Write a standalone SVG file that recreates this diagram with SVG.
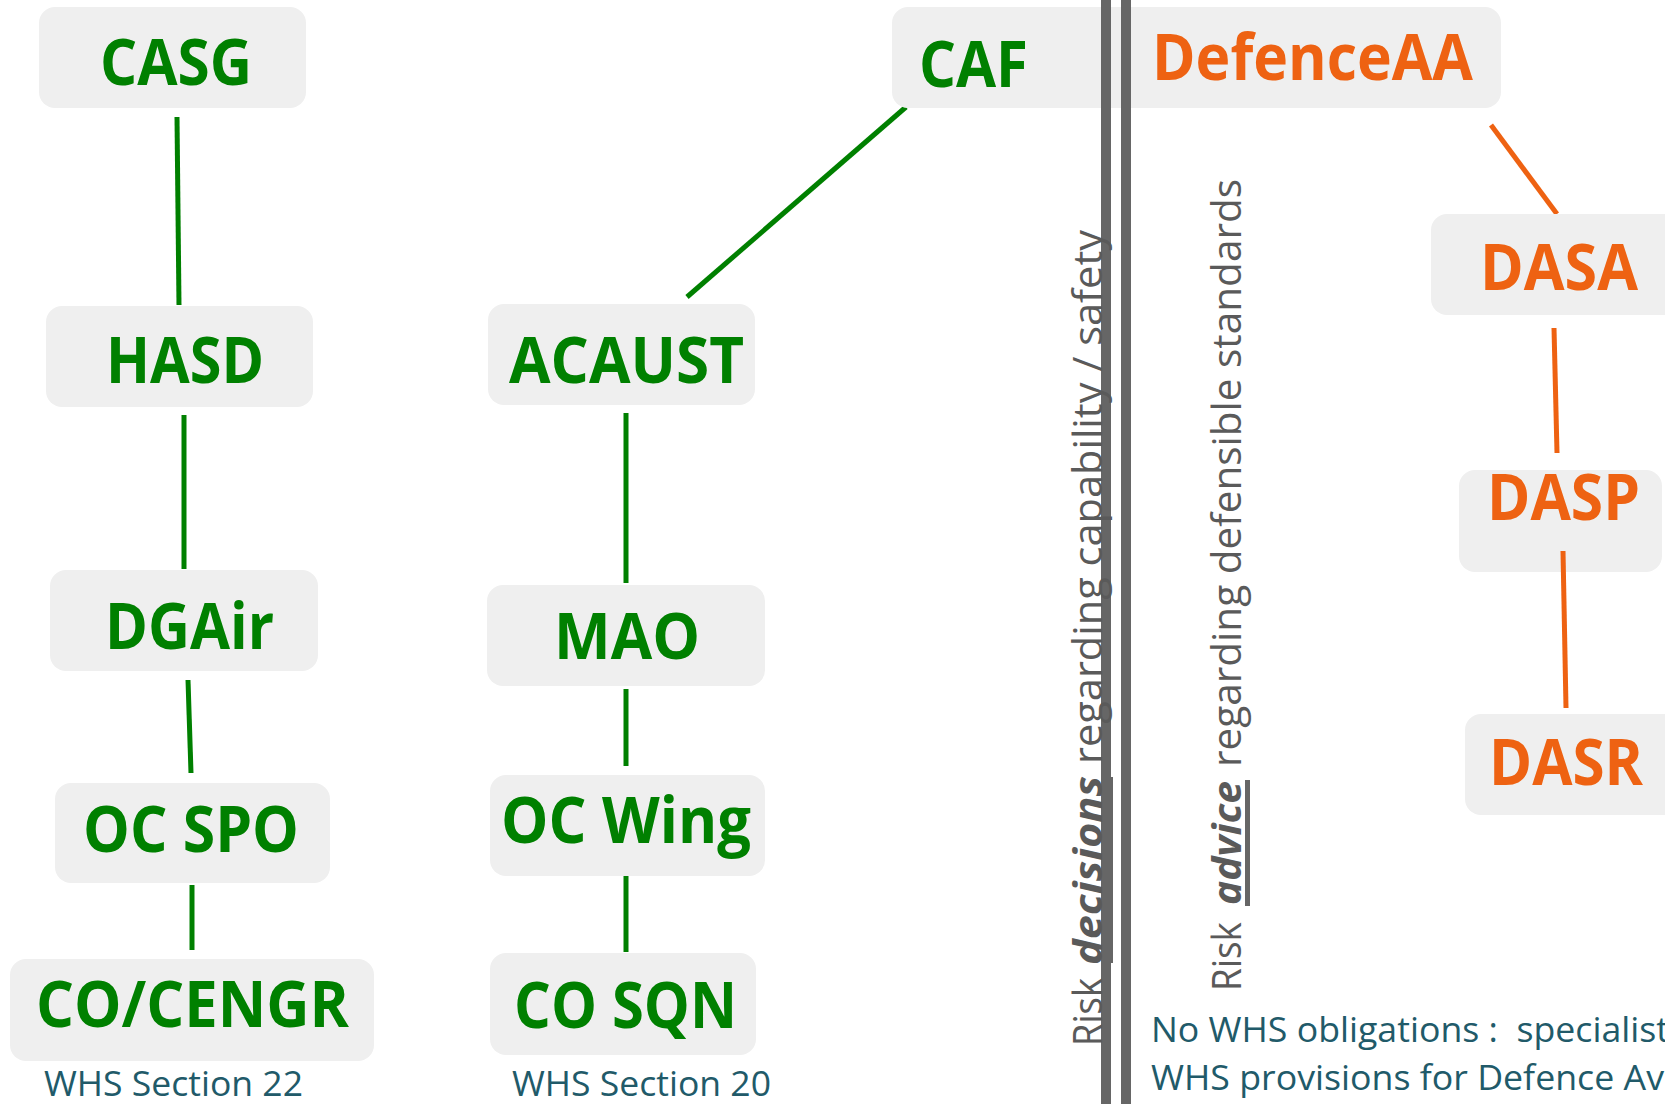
<svg xmlns="http://www.w3.org/2000/svg" width="1665" height="1104" viewBox="0 0 1665 1104">
<style>
.box{fill:#EFEFEF}
.g{font-family:"Open Sans","Liberation Sans",sans-serif;font-weight:700;font-size:64px;fill:#008000}
.o{font-family:"Open Sans","Liberation Sans",sans-serif;font-weight:700;font-size:64px;fill:#EE6212}
.cg{stroke:#008000;stroke-width:5;fill:none}
.co{stroke:#EE6212;stroke-width:5;fill:none}
.vt{font-family:"Open Sans","Liberation Sans",sans-serif;font-size:40px;fill:#5A5A5A}
.vb{font-weight:700;font-style:italic}
.ws{font-family:"Open Sans","Liberation Sans",sans-serif;font-size:35px;fill:#215A69}
.bar{fill:#666666}
</style>
<rect width="1665" height="1104" fill="#FFFFFF"/>
<g id="connectors">
<line class="cg" x1="177" y1="117" x2="179" y2="305"/>
<line class="cg" x1="184" y1="415" x2="184" y2="569"/>
<line class="cg" x1="188" y1="680" x2="191" y2="773"/>
<line class="cg" x1="192" y1="885" x2="192" y2="950"/>
<line class="cg" x1="906" y1="107" x2="687" y2="297"/>
<line class="cg" x1="626" y1="413" x2="626" y2="583"/>
<line class="cg" x1="626" y1="689" x2="626" y2="766"/>
<line class="cg" x1="626" y1="873" x2="626" y2="952"/>
<line class="co" x1="1491" y1="125" x2="1557" y2="214"/>
<line class="co" x1="1554" y1="328" x2="1557" y2="453"/>
</g>
<g id="node-casg"><rect class="box" x="39" y="7" width="267" height="101" rx="16"/><text class="g" x="100" y="85" textLength="152" lengthAdjust="spacingAndGlyphs">CASG</text></g>
<g id="node-hasd"><rect class="box" x="46" y="306" width="267" height="101" rx="16"/><text class="g" x="106" y="383" textLength="158" lengthAdjust="spacingAndGlyphs">HASD</text></g>
<g id="node-dgair"><rect class="box" x="50" y="570" width="268" height="101" rx="16"/><text class="g" x="105" y="649" textLength="169" lengthAdjust="spacingAndGlyphs">DGAir</text></g>
<g id="node-ocspo"><rect class="box" x="55" y="783" width="275" height="100" rx="16"/><text class="g" x="83" y="852" textLength="216" lengthAdjust="spacingAndGlyphs">OC SPO</text></g>
<g id="node-cocengr"><rect class="box" x="10" y="959" width="364" height="102" rx="16"/><text class="g" x="36" y="1027" textLength="313" lengthAdjust="spacingAndGlyphs">CO/CENGR</text></g>
<g id="node-acaust"><rect class="box" x="488" y="304" width="267" height="101" rx="16"/><text class="g" x="509" y="383" textLength="235" lengthAdjust="spacingAndGlyphs">ACAUST</text></g>
<g id="node-mao"><rect class="box" x="487" y="585" width="278" height="101" rx="16"/><text class="g" x="554" y="659" textLength="146" lengthAdjust="spacingAndGlyphs">MAO</text></g>
<g id="node-ocwing"><rect class="box" x="490" y="775" width="275" height="101" rx="16"/><text class="g" x="501" y="843" textLength="250" lengthAdjust="spacingAndGlyphs">OC Wing</text></g>
<g id="node-cosqn"><rect class="box" x="490" y="953" width="266" height="102" rx="16"/><text class="g" x="514" y="1028" textLength="223" lengthAdjust="spacingAndGlyphs">CO SQN</text></g>
<g id="node-caf"><path class="box" d="M908 7 H1116 V108 H908 A16 16 0 0 1 892 92 V23 A16 16 0 0 1 908 7 Z"/><text class="g" x="919" y="87" textLength="109" lengthAdjust="spacingAndGlyphs">CAF</text></g>
<g id="node-defenceaa"><path class="box" d="M1106 7 H1485 A16 16 0 0 1 1501 23 V92 A16 16 0 0 1 1485 108 H1106 Z"/><text class="o" x="1152" y="80" textLength="321" lengthAdjust="spacingAndGlyphs">DefenceAA</text></g>
<g id="node-dasa"><rect class="box" x="1431" y="214" width="260" height="101" rx="16"/><text class="o" x="1480" y="290" textLength="158" lengthAdjust="spacingAndGlyphs">DASA</text></g>
<g id="node-dasp"><rect class="box" x="1459" y="470" width="203" height="102" rx="16"/><text class="o" x="1487" y="520" textLength="153" lengthAdjust="spacingAndGlyphs">DASP</text></g>
<g id="node-dasr"><rect class="box" x="1465" y="714" width="220" height="101" rx="16"/><text class="o" x="1489" y="785" textLength="154" lengthAdjust="spacingAndGlyphs">DASR</text></g>
<line class="co" x1="1563" y1="551" x2="1566" y2="708"/>
<g id="dividers">
<rect class="bar" x="1101" y="0" width="10" height="1104"/>
<rect class="bar" x="1121" y="0" width="10" height="1104"/>
</g>
<g id="label-decisions" transform="translate(1102,1046) rotate(-90)">
<text class="vt" x="0" y="0" textLength="68" lengthAdjust="spacingAndGlyphs">Risk</text>
<text class="vt vb" x="81" y="0" textLength="189" lengthAdjust="spacingAndGlyphs">decisions</text>
<text class="vt" x="282" y="0" textLength="534" lengthAdjust="spacingAndGlyphs">regarding capability / safety</text>
</g>
<rect class="bar" x="1108" y="777" width="5" height="186"/>
<g id="label-advice" transform="translate(1241,991) rotate(-90)">
<text class="vt" x="0" y="0" textLength="69" lengthAdjust="spacingAndGlyphs">Risk</text>
<text class="vt vb" x="86" y="0" textLength="124" lengthAdjust="spacingAndGlyphs">advice</text>
<text class="vt" x="224" y="0" textLength="588" lengthAdjust="spacingAndGlyphs">regarding defensible standards</text>
</g>
<rect class="bar" x="1245" y="780" width="5" height="126"/>
<text class="ws" x="44" y="1096" textLength="259" lengthAdjust="spacingAndGlyphs">WHS Section 22</text>
<text class="ws" x="512" y="1096" textLength="259" lengthAdjust="spacingAndGlyphs">WHS Section 20</text>
<text class="ws" x="1151" y="1042" xml:space="preserve" textLength="518" lengthAdjust="spacingAndGlyphs">No WHS obligations :  specialist</text>
<text class="ws" x="1151" y="1090" textLength="513" lengthAdjust="spacingAndGlyphs">WHS provisions for Defence Av</text>
</svg>
